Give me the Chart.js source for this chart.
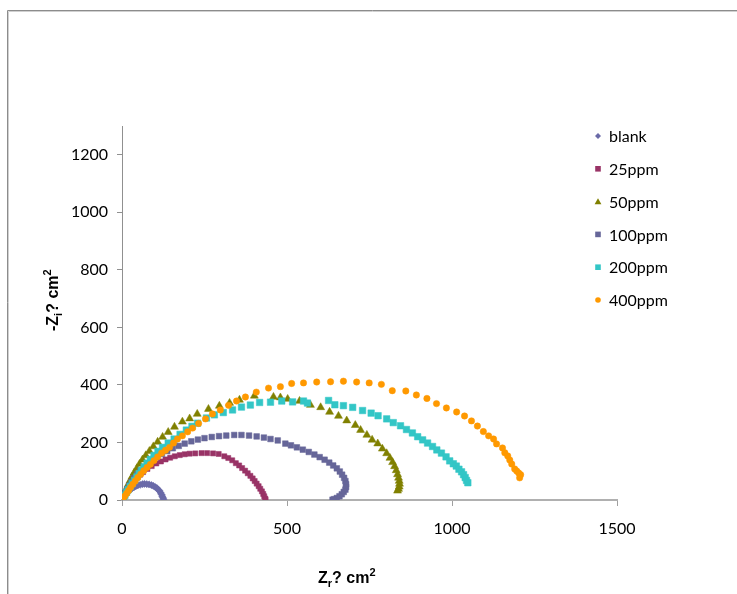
<!DOCTYPE html>
<html>
<head>
<meta charset="utf-8">
<script src="https://cdn.jsdelivr.net/npm/chart.js@4/dist/chart.umd.min.js"></script>
<style>
  html, body { margin: 0; padding: 0; background: #fff; }
  #wrap { position: relative; width: 737px; height: 594px; }
</style>
</head>
<body>
<div id="wrap"><canvas id="c" width="737" height="594"></canvas></div>
<script>
// Nyquist data: real part Zr and imaginary part -Zi (ohm cm2) per inhibitor concentration
const seriesNames = ['blank', '25ppm', '50ppm', '100ppm', '200ppm', '400ppm'];

const blankZr = [0, 3, 6, 10, 14, 19, 24, 30, 36, 42, 48, 55, 62, 68, 75, 82, 89, 95, 101, 106, 110, 114, 117, 120, 122, 124, 126];
const blankZi = [0, 6, 12, 18, 24, 30, 35, 40, 44, 48, 51, 53, 55, 56, 55, 54, 52, 49, 45, 41, 36, 31, 25, 19, 13, 8, 3];

const ppm25Zr = [0, 4, 8, 13, 18, 24, 31, 38, 46, 55, 64, 77, 90, 104, 118, 132, 146, 160, 175, 190, 205, 222, 241, 258, 276, 293, 310, 322, 334, 345, 355, 364, 373, 381, 389, 396, 402, 408, 414, 419, 424, 428, 431, 434, 435];
const ppm25Zi = [0, 10, 20, 30, 40, 50, 60, 70, 79, 88, 97, 108, 118, 127, 134, 141, 147, 152, 156, 159, 161, 162, 163, 163, 162, 160, 152, 146, 138, 128, 120, 111, 102, 93, 84, 75, 66, 57, 48, 39, 30, 21, 13, 5, 1];

const ppm50Zr = [0, 4, 8, 13, 18, 24, 30, 37, 45, 53, 62, 72, 83, 95, 108, 123, 140, 159, 183, 205, 228, 262, 295, 326, 356, 401, 459, 480, 502, 538, 571, 602, 629, 656, 681, 707, 723, 742, 758, 775, 789, 802, 812, 820, 826, 831, 835, 838, 840, 841, 840, 838, 835];
const ppm50Zi = [0, 12, 24, 38, 52, 66, 80, 95, 110, 125, 140, 155, 170, 186, 202, 219, 236, 254, 272, 283, 299, 316, 327, 337, 348, 362, 358, 356, 351, 344, 330, 322, 306, 292, 276, 260, 243, 226, 209, 196, 178, 162, 146, 131, 117, 103, 89, 77, 66, 56, 46, 38, 32];

const ppm100Zr = [0, 5, 10, 16, 22, 29, 37, 46, 56, 67, 79, 92, 106, 121, 137, 154, 172, 190, 210, 230, 250, 272, 294, 316, 340, 362, 385, 408, 430, 450, 472, 495, 512, 530, 548, 566, 583, 599, 614, 628, 640, 651, 660, 667, 673, 677, 679, 679, 677, 672, 666, 659, 651, 643, 638];
const ppm100Zi = [0, 12, 25, 38, 50, 63, 76, 89, 102, 115, 127, 138, 149, 160, 170, 180, 188, 196, 204, 210, 215, 219, 222, 224, 226, 226, 224, 221, 217, 212, 207, 196, 190, 183, 175, 167, 158, 149, 140, 130, 120, 110, 99, 88, 77, 66, 55, 45, 36, 28, 20, 13, 7, 3, 1];

const ppm200Zr = [0, 4, 9, 14, 19, 25, 31, 38, 45, 52, 59, 67, 76, 86, 97, 109, 123, 140, 158, 176, 195, 212, 229, 256, 280, 307, 335, 362, 389, 417, 450, 484, 517, 550, 562, 626, 645, 671, 699, 729, 755, 776, 802, 822, 844, 862, 880, 896, 911, 926, 941, 954, 968, 982, 993, 1004, 1013, 1021, 1029, 1035, 1040, 1044, 1048];
const ppm200Zi = [0, 8, 17, 27, 36, 47, 57, 68, 80, 92, 103, 115, 128, 141, 155, 169, 183, 198, 212, 228, 243, 256, 267, 285, 296, 304, 313, 323, 330, 339, 340, 344, 341, 344, 337, 346, 331, 328, 322, 311, 302, 293, 282, 269, 258, 245, 233, 220, 209, 198, 186, 174, 163, 150, 136, 126, 118, 107, 98, 88, 78, 68, 60];

const ppm400Zr = [0, 3, 8, 14, 20, 26, 33, 40, 48, 57, 66, 76, 86, 97, 108, 120, 132, 144, 156, 168, 183, 199, 214, 232, 253, 274, 298, 323, 347, 374, 407, 444, 480, 514, 550, 590, 632, 671, 711, 749, 786, 819, 860, 892, 924, 953, 983, 1014, 1038, 1059, 1077, 1095, 1111, 1126, 1135, 1153, 1160, 1169, 1175, 1181, 1190, 1196, 1202, 1208, 1205];
const ppm400Zi = [0, 5, 13, 23, 33, 44, 55, 66, 78, 90, 102, 113, 124, 137, 150, 163, 173, 183, 198, 212, 223, 237, 250, 266, 282, 299, 313, 329, 344, 358, 375, 389, 394, 405, 407, 410, 411, 413, 410, 407, 402, 380, 379, 365, 353, 335, 320, 306, 292, 275, 257, 238, 223, 212, 195, 181, 164, 153, 139, 125, 108, 101, 94, 88, 77];

const xTicks = [0, 500, 1000, 1500];
const yTicks = [0, 200, 400, 600, 800, 1000, 1200];

const seriesZr = [blankZr, ppm25Zr, ppm50Zr, ppm100Zr, ppm200Zr, ppm400Zr];
const seriesZi = [blankZi, ppm25Zi, ppm50Zi, ppm100Zi, ppm200Zi, ppm400Zi];

// marker look per series
const colors = ['#6a6aa8', '#993366', '#808000', '#666699', '#33c6c6', '#ff9900'];
const styles = ['rectRot', 'rect', 'triangle', 'rect', 'rect', 'circle'];
const radii  = [3.6, 3.6, 4.6, 4.0, 4.6, 3.2];

const FONT = 'Lato, "Liberation Sans", Arial, sans-serif';
const BOLD = '"Liberation Sans", Arial, sans-serif';

const datasets = seriesNames.map((name, i) => ({
  label: name,
  data: seriesZr[i].map((x, k) => ({ x: x, y: seriesZi[i][k] })),
  showLine: false,
  pointStyle: styles[i],
  pointRadius: radii[i],
  pointBackgroundColor: colors[i],
  pointBorderColor: colors[i],
  pointBorderWidth: 0.5,
  order: seriesNames.length - i
}));

// outer frame line along the top and left edge
const framePlugin = {
  id: 'frame',
  beforeDraw(chart) {
    const ctx = chart.ctx;
    ctx.save();
    ctx.strokeStyle = '#8c8c8c';
    ctx.lineWidth = 1;
    ctx.beginPath();
    ctx.moveTo(7.5, 594);
    ctx.lineTo(7.5, 10.5);
    ctx.lineTo(737, 10.5);
    ctx.stroke();
    ctx.strokeStyle = '#d0d0d0';
    ctx.beginPath();
    ctx.moveTo(8.5, 594);
    ctx.lineTo(8.5, 11.5);
    ctx.lineTo(737, 11.5);
    ctx.stroke();
    ctx.restore();
  }
};

// draws a run of text pieces with subscript / superscript offsets
function drawRich(ctx, parts, x, y) {
  let cx = x;
  parts.forEach(p => {
    ctx.font = 'bold ' + p.size + 'px ' + BOLD;
    ctx.fillText(p.t, cx, y + (p.dy || 0));
    cx += ctx.measureText(p.t).width;
  });
}

const titlePlugin = {
  id: 'axisTitles',
  afterDraw(chart) {
    const ctx = chart.ctx;
    ctx.save();
    ctx.fillStyle = '#000';
    ctx.textBaseline = 'alphabetic';
    ctx.textAlign = 'left';
    drawRich(ctx, [
      { t: 'Z', size: 16 }, { t: 'r', size: 11, dy: 4 },
      { t: '? cm', size: 16 }, { t: '2', size: 11, dy: -7 }
    ], 318, 583);
    ctx.translate(58, 331);
    ctx.rotate(-Math.PI / 2);
    drawRich(ctx, [
      { t: '-Z', size: 16 }, { t: 'i', size: 11, dy: 4 },
      { t: '? cm', size: 16 }, { t: '2', size: 11, dy: -7 }
    ], 0, 0);
    ctx.restore();
  }
};

function drawMarker(ctx, style, x, y, r) {
  ctx.beginPath();
  if (style === 'circle') {
    ctx.arc(x, y, r, 0, Math.PI * 2);
  } else if (style === 'rect') {
    ctx.rect(x - r, y - r, 2 * r, 2 * r);
  } else if (style === 'rectRot') {
    ctx.moveTo(x, y - r); ctx.lineTo(x + r, y); ctx.lineTo(x, y + r); ctx.lineTo(x - r, y);
    ctx.closePath();
  } else if (style === 'triangle') {
    ctx.moveTo(x, y - r); ctx.lineTo(x + r, y + r * 0.8); ctx.lineTo(x - r, y + r * 0.8);
    ctx.closePath();
  }
  ctx.fill();
}

const legendPlugin = {
  id: 'sideLegend',
  afterDraw(chart) {
    const ctx = chart.ctx;
    ctx.save();
    ctx.textBaseline = 'middle';
    ctx.textAlign = 'left';
    ctx.font = '16px ' + FONT;
    const legR = [3, 2.8, 3.4, 2.8, 2.8, 2.8];
    seriesNames.forEach((name, i) => {
      const y = 136 + i * 32.8;
      ctx.fillStyle = colors[i];
      drawMarker(ctx, styles[i], 598, y, legR[i]);
      ctx.fillStyle = '#000';
      ctx.fillText(name, 609, y + 1);
    });
    ctx.restore();
  }
};

new Chart(document.getElementById('c'), {
  type: 'scatter',
  data: { datasets },
  options: {
    responsive: false,
    animation: false,
    devicePixelRatio: 1,
    layout: { padding: { top: 126, right: 120, left: 0, bottom: 0 } },
    plugins: { legend: { display: false }, tooltip: { enabled: false } },
    scales: {
      x: {
        type: 'linear',
        position: 'bottom',
        min: xTicks[0],
        max: xTicks[xTicks.length - 1],
        afterFit(s) { s.height = 94; },
        afterBuildTicks(s) { s.ticks = xTicks.map(v => ({ value: v })); },
        ticks: { font: { family: FONT, size: 16 }, color: '#000', padding: 13, maxRotation: 0, callback: v => String(v) },
        grid: { drawOnChartArea: false, drawTicks: true, tickLength: 6, tickColor: '#a0a0a0', tickWidth: 1 },
        border: { display: true, color: '#b0b0b0', width: 2 }
      },
      y: {
        type: 'linear',
        position: 'left',
        min: 0,
        max: 1300,
        afterFit(s) { s.width = 122; },
        afterBuildTicks(s) { s.ticks = yTicks.map(v => ({ value: v })); },
        ticks: { font: { family: FONT, size: 16 }, color: '#000', padding: 9, callback: v => String(v) },
        grid: { drawOnChartArea: false, drawTicks: true, tickLength: 5, tickColor: '#909090', tickWidth: 1 },
        border: { display: true, color: '#909090', width: 1 }
      }
    }
  },
  plugins: [framePlugin, titlePlugin, legendPlugin]
});
</script>
</body>
</html>
